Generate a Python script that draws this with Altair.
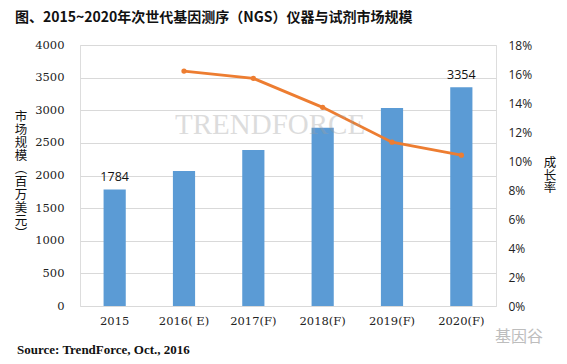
import altair as alt
import pandas as pd

years = ["2015", "2016( E)", "2017(F)", "2018(F)", "2019(F)", "2020(F)"]
market = [1784, 2070, 2390, 2730, 3035, 3354]
growth = [None, 0.162, 0.157, 0.137, 0.113, 0.104]
value_labels = ["1784", "", "", "", "", "3354"]
left_ticks = [0, 500, 1000, 1500, 2000, 2500, 3000, 3500, 4000]
right_ticks = [0, 0.02, 0.04, 0.06, 0.08, 0.10, 0.12, 0.14, 0.16, 0.18]

title_text = "图、2015~2020年次世代基因测序（NGS）仪器与试剂市场规模"
left_title = "市\n场\n规\n模\n︵\n百\n万\n美\n元\n︶"
right_title = "成\n长\n率"
source_text = "Source: TrendForce, Oct., 2016"

df = pd.DataFrame({"year": years, "market": market, "growth": growth, "label": value_labels})
df_line = df.dropna(subset=["growth"])

CJK = "Noto Sans CJK SC"
SERIF = "DejaVu Serif"

xscale = alt.Scale(paddingInner=0.68, paddingOuter=0.34)
xaxis = alt.Axis(title=None, labelAngle=0, domain=False, ticks=False,
                 labelOverlap=False,
                 labelPadding=9, labelFont=SERIF, labelFontSize=11.5,
                 labelColor="#222222")
xenc = alt.X("year:N", sort=years, scale=xscale, axis=xaxis)

yscale_left = alt.Scale(domain=[0, 4000], nice=False)
yaxis_left = alt.Axis(title=None, values=left_ticks, format="d", labelOverlap=False,
                      domain=False, ticks=False,
                      labelPadding=16, labelFont=SERIF, labelFontSize=11.5,
                      labelColor="#222222", gridColor="#D9D9D9", gridWidth=1)
yleft = alt.Y("market:Q", scale=yscale_left, axis=yaxis_left)

bars = alt.Chart(df).mark_bar(color="#5B9BD5").encode(x=xenc, y=yleft)

labels = alt.Chart(df).mark_text(baseline="middle", dy=-12.5, font="Open Sans",
                                 fontSize=12.5, color="#111111").encode(
    x=xenc, y=yleft, text="label:N")

yright = alt.Y("growth:Q", scale=alt.Scale(domain=[0, 0.18], nice=False),
               axis=alt.Axis(title=None, orient="right", values=right_ticks, format=".0%",
                             labelOverlap=False,
                             domain=False, ticks=False, grid=False, labelPadding=12,
                             labelFont="Open Sans", labelFontSize=12, labelColor="#222222"))

line = alt.Chart(df_line).mark_line(color="#ED7D31", strokeWidth=2.8,
                                    point=alt.OverlayMarkDef(color="#ED7D31", size=28, filled=True)).encode(
    x=xenc, y=yright)

one = alt.Data(values=[{}])

def txt(text, x, y, **kw):
    return alt.Chart(one).mark_text(text=text, **kw).encode(x=alt.value(x), y=alt.value(y))

t_title = txt(title_text, -65, -27, align="left", baseline="middle", font=CJK,
              fontSize=14, fontWeight="bold", color="#111111")
t_left = txt(left_title, -59, 66, align="center", baseline="top", lineBreak="\n",
             lineHeight=13, font=CJK, fontSize=12.5, color="#111111")
t_right = txt(right_title, 470, 112, align="center", baseline="top", lineBreak="\n",
              lineHeight=12.5, font=CJK, fontSize=12.5, color="#111111")
t_source = txt(source_text, -63, 305, align="left", baseline="middle", font="Liberation Serif",
               fontSize=13, fontWeight="bold", color="#111111")
t_wm = txt("TRENDFORCE", 95, 80, align="left", baseline="middle", font="Liberation Serif",
           fontSize=29, color="#9E9E9E", opacity=0.35)
t_jyg = txt("基因谷", 415, 292, align="left", baseline="middle", font=CJK,
            fontSize=16, color="#BDBDBD")

left_layer = alt.layer(bars, labels)
chart = alt.layer(left_layer, line, t_wm, t_title, t_left, t_right, t_source, t_jyg).resolve_scale(
    y="independent"
).properties(
    width=416, height=261,
    autosize=alt.AutoSizeParams(type="none"),
    padding={"left": 72, "top": 37, "right": 63, "bottom": 50},
).configure_view(stroke=None).configure(background="white")

chart.save("out.html", embed_options={"renderer": "svg", "actions": False})
